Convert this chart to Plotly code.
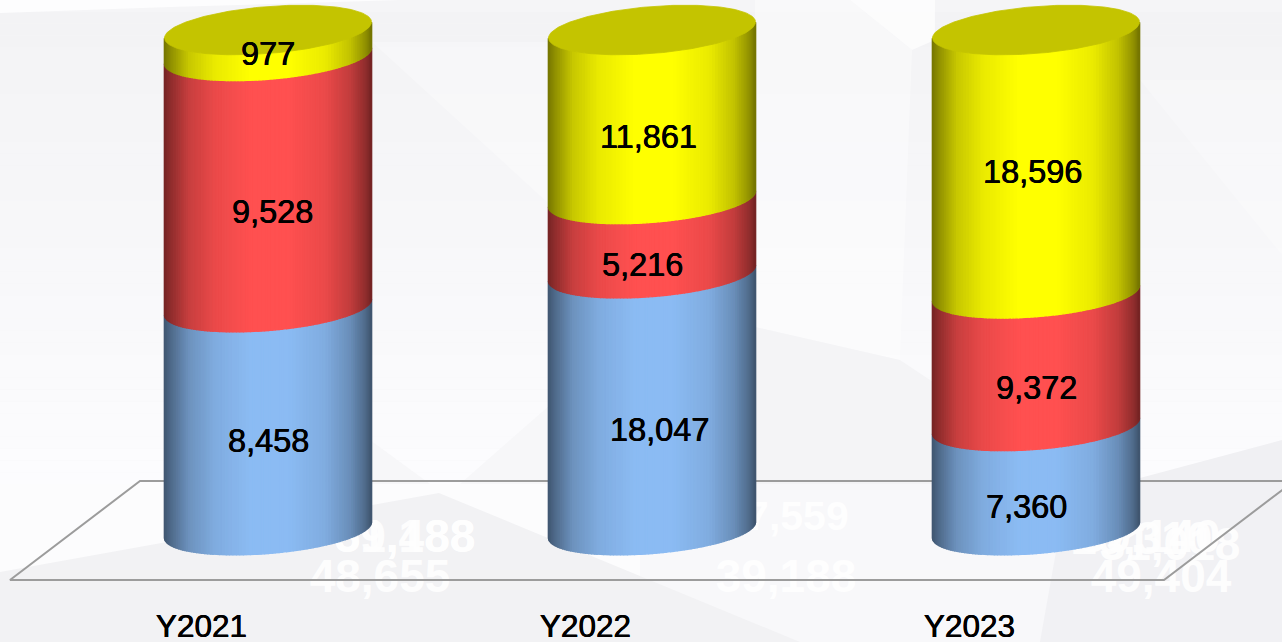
import math
import plotly.graph_objects as go

# ---- data ----
categories = ["Y2021", "Y2022", "Y2023"]
series_names = ["Blue", "Red", "Yellow"]
blue_values = [8458, 18047, 7360]
red_values = [9528, 5216, 9372]
yellow_values = [977, 11861, 18596]
blue_labels = ["8,458", "18,047", "7,360"]
red_labels = ["9,528", "5,216", "9,372"]
yellow_labels = ["977", "11,861", "18,596"]
ghost_labels = ["48,655", "39,188", "49,404", "39,188", "51,488", "27,559", "20,310", "39,140", "31,018"]

# ---- style / layout ----
W, H = 1282, 642
PLOT_H = 604
PX_PER_PCT = 5.0
ZERO_PX, SPACING_PX, FIRST_PX = 530.0, 384.0, 268.0
HALF_W = 103.5 / SPACING_PX
B_PX, SHEAR_PX = 23.5, 8.0
TICK_SHIFT = -66.5 / SPACING_PX
BASE = {"Blue": (139, 187, 243), "Red": (255, 80, 80), "Yellow": (255, 255, 0)}
CAP = "#C4C400"
SHADE_STOPS = [(0, .46), (.04, .58), (.12, .78), (.25, .92), (.42, 1), (.6, 1), (.78, .92), (.9, .76), (.97, .58), (1, .46)]
N_STRIPS = 90

xr = [-FIRST_PX / SPACING_PX, (W - FIRST_PX) / SPACING_PX]
yr = [-(PLOT_H - ZERO_PX) / PX_PER_PCT, ZERO_PX / PX_PER_PCT]

def shade(t):
    for (a, sa), (b, sb) in zip(SHADE_STOPS, SHADE_STOPS[1:]):
        if t <= b:
            return sa + (sb - sa) * (t - a) / (b - a)
    return SHADE_STOPS[-1][1]

def rgb(base, s):
    return "rgb(%d,%d,%d)" % tuple(round(c * s) for c in base)

def arc(u, sign):
    """Vertical offset of an ellipse edge, in percent units, at relative position u."""
    return (SHEAR_PX * u + sign * B_PX * math.sqrt(max(0, 1 - u * u))) / PX_PER_PCT

def px_x(p): return (p - FIRST_PX) / SPACING_PX
def px_y(p): return (ZERO_PX - p) / PX_PER_PCT

fig = go.Figure()

# ghost labels (white text left behind the chart)
ghost_pos = [(380, 580), (786, 580), (1161, 580), (405, 540), (405, 540), (786, 520), (1142, 542), (1150, 540), (1170, 548)]
ghost_sizes = [46, 46, 46, 46, 46, 41, 46, 46, 46]
fig.add_trace(go.Scatter(
    x=[px_x(p[0]) for p in ghost_pos], y=[px_y(p[1]) for p in ghost_pos], text=ghost_labels,
    mode="text", textposition="middle center", hoverinfo="skip", showlegend=False,
    textfont=dict(family="Liberation Sans", size=ghost_sizes, color="rgba(255,255,255,.9)", weight="bold")))

# floor outline
fig.add_trace(go.Scatter(
    x=[px_x(1294), px_x(140), px_x(10), px_x(1164), px_x(1294)],
    y=[px_y(481), px_y(481), px_y(580), px_y(580), px_y(481)],
    mode="lines", line=dict(color="#9C9C9C", width=2), hoverinfo="skip", showlegend=False))

# cylinders
columns = [blue_values, red_values, yellow_values]
for i, cat in enumerate(categories):
    total = sum(c[i] for c in columns)
    bottom = 0.0
    for name, col in zip(series_names, columns):
        top = bottom + col[i] / total * 100
        for k in range(N_STRIPS):
            u0 = -math.cos(math.pi * k / N_STRIPS)
            u1 = -math.cos(math.pi * (k + 1) / N_STRIPS)
            tm = ((u0 + u1) / 2 + 1) / 2
            c = rgb(BASE[name], shade(tm))
            x0, x1 = i + u0 * HALF_W, i + u1 * HALF_W
            fig.add_trace(go.Scatter(
                x=[x0, x1, x1, x0, x0],
                y=[bottom + arc(u0, -1), bottom + arc(u1, -1), top + arc(u1, -1), top + arc(u0, -1), bottom + arc(u0, -1)],
                mode="lines", fill="toself", fillcolor=c, line=dict(color=c, width=1.4),
                hoverinfo="skip", showlegend=False))
        bottom = top
    us = [-math.cos(math.pi * k / 120) for k in range(121)]
    fig.add_trace(go.Scatter(
        x=[i + u * HALF_W for u in us] + [i + u * HALF_W for u in reversed(us)],
        y=[100 + arc(u, -1) for u in us] + [100 + arc(u, 1) for u in reversed(us)],
        mode="lines", fill="toself", fillcolor=CAP, line=dict(color=CAP, width=0.8),
        hoverinfo="skip", showlegend=False))

# background
shapes = []
BANDS = 40
for j in range(BANDS):
    f = j / (BANDS - 1)
    g = round(243 + (252 - 243) * f)
    y0 = 12 + (484 - 12) * j / BANDS
    y1 = 12 + (484 - 12) * (j + 1) / BANDS
    shapes.append(dict(type="rect", xref="paper", yref="paper", x0=0, x1=1, y0=1 - y0 / PLOT_H, y1=1 - y1 / PLOT_H,
                       fillcolor="rgb(%d,%d,%d)" % (g, g, min(255, g + 2)), line_width=0, layer="below"))

def poly(pts, fill):
    d = "M" + " L".join("%.4f,%.4f" % (x / W, 1 - y / PLOT_H) for x, y in pts) + " Z"
    shapes.append(dict(type="path", path=d, xref="paper", yref="paper", fillcolor=fill, line_width=0, layer="below"))

poly([(0, 484), (640, 484), (640, 642), (0, 642)], "#FCFCFD")
poly([(640, 484), (1282, 484), (1282, 642), (640, 642)], "#F8F8FA")
poly([(0, 13), (170, 7), (400, 0), (0, 0)], "#FDFDFE")
poly([(372, 42), (550, 205), (550, 42)], "rgba(255,255,255,.3)")
poly([(1140, 80), (1282, 255), (1282, 80)], "rgba(255,255,255,.25)")
poly([(755, 0), (850, 0), (912, 50), (900, 360), (755, 327)], "rgba(255,255,255,.4)")
poly([(850, 0), (912, 50), (935, 40), (935, 0)], "rgba(255,255,255,.7)")
poly([(755, 327), (900, 360), (933, 382), (933, 484), (755, 484)], "#F4F4F6")
poly([(370, 440), (430, 484), (370, 484)], "#F7F7F9")
poly([(550, 405), (460, 484), (550, 484)], "#F7F7F9")
poly([(0, 572), (439, 493), (800, 642), (0, 642)], "#F2F2F4")
poly([(1282, 440), (1140, 478), (1140, 484), (1282, 484)], "#F0F0F3")
poly([(1282, 484), (1068, 484), (1040, 642), (1282, 642)], "#F1F1F4")

# annotations
anns = []
label_offsets = {
    "Blue": [(0, -23), (7, -28), (-10, -29)],
    "Red": [(4, -31), (-10, -29), (0, -28)],
    "Yellow": [(0, -11), (-4, -23), (-4, -10)],
}
label_sets = {"Blue": blue_labels, "Red": red_labels, "Yellow": yellow_labels}
THICK = "0.35px 0 0 black, -0.35px 0 0 black"
for i in range(3):
    total = sum(c[i] for c in columns)
    bottom = 0.0
    for name, col in zip(series_names, columns):
        top = bottom + col[i] / total * 100
        dx, dy = label_offsets[name][i]
        anns.append(dict(x=i, y=(bottom + top) / 2, text=label_sets[name][i], showarrow=False,
                         xshift=dx, yshift=dy, xanchor="center", yanchor="middle",
                         font=dict(family="Liberation Sans", size=32.5, color="black", shadow=THICK)))
        bottom = top

fig.update_layout(
    width=W, height=H, margin=dict(l=0, r=0, t=0, b=H - PLOT_H), showlegend=False,
    paper_bgcolor="#F5F5F7", plot_bgcolor="rgba(0,0,0,0)", shapes=shapes, annotations=anns,
    xaxis=dict(range=xr, tickmode="array", tickvals=[i + TICK_SHIFT for i in range(3)], ticktext=categories,
               ticks="", showgrid=False, zeroline=False, showline=False, fixedrange=True, automargin=False,
               tickfont=dict(family="Liberation Sans", size=31.5, color="black", shadow=THICK)),
    yaxis=dict(range=yr, visible=False, fixedrange=True),
)
fig.write_html("out.html", config=dict(displayModeBar=False),
               post_script="document.body.style.margin='0';document.documentElement.style.overflow='hidden';")
